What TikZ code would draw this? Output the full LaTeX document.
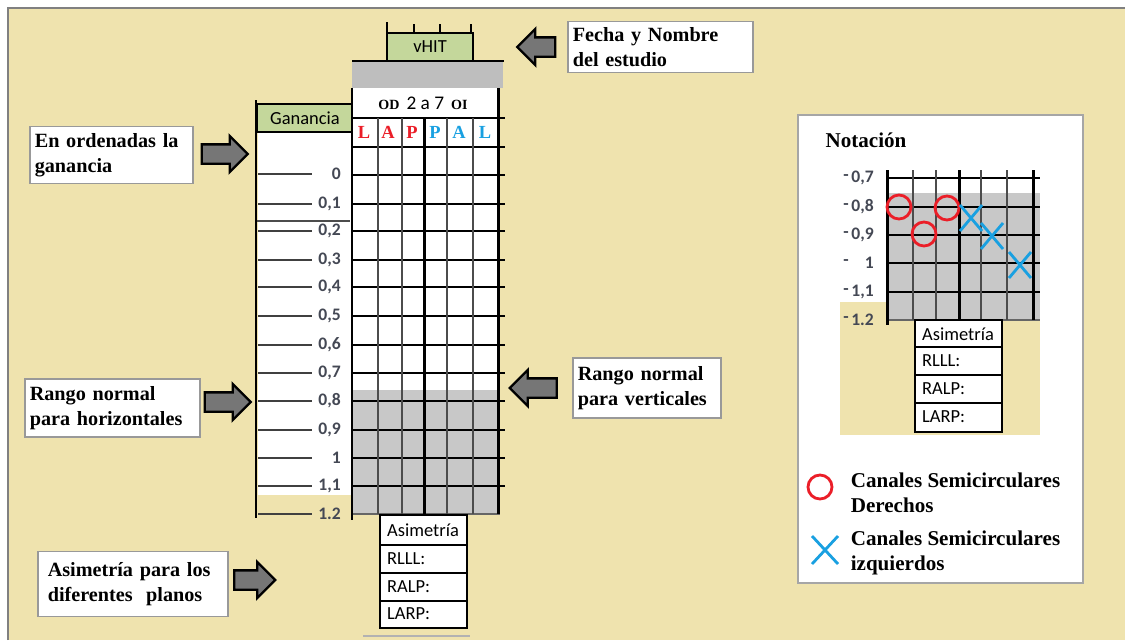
\documentclass[tikz,border=0pt]{standalone}
\usepackage{fontspec}
\setmainfont{Liberation Serif}
\newfontfamily\calib{Carlito}
\usepackage{tikz}
\usetikzlibrary{shapes.arrows}
\usepackage{xcolor}

\definecolor{tan}{RGB}{239,227,174}
\definecolor{hdrgreen}{RGB}{196,215,155}
\definecolor{bandgray}{RGB}{190,190,190}
\definecolor{shadegray}{RGB}{200,200,200}
\definecolor{numgray}{RGB}{68,72,84}
\definecolor{arrowgray}{RGB}{118,118,118}
\definecolor{odred}{RGB}{235,30,40}
\definecolor{oiblue}{RGB}{25,160,225}

\tikzset{
  callout/.style={draw=gray!80, fill=white, line width=0.9pt, align=left, anchor=west,
    inner xsep=0.1cm, inner ysep=0pt, font=\bfseries\fontsize{11.5}{14.2}\selectfont},
  blockarrow/.style={single arrow, draw=black, fill=arrowgray, line width=1.3pt,
    single arrow head extend=0.17cm, inner xsep=0pt, inner ysep=0.17cm},
  numlabel/.style={anchor=east, text=numgray, font=\calib\bfseries\fontsize{10}{12}\selectfont},
  celltext/.style={anchor=west, font=\calib\fontsize{10.5}{12}\selectfont},
  gridline/.style={line width=0.9pt},
  thinline/.style={black!70, line width=0.9pt},
  thickline/.style={line width=1.7pt},
  rightmark/.style={odred, line width=1.6pt},
  leftmark/.style={oiblue, line width=1.6pt}
}

\begin{document}
\begin{tikzpicture}[x=0.02cm, y=-0.02cm]

  % Frame
  \useasboundingbox (0,0) rectangle (1125,640);
  \fill[white] (0,0) rectangle (1125,640);
  \fill[tan] (8,8) rectangle (1125,640);
  \draw[gray, line width=1.4pt] (8,640) -- (8,8) -- (1125,8);

  % vHIT header
  \draw[thickline] (387,22) -- (387,34);
  \draw[line width=1.2pt] (414,24) -- (414,33) (440,24) -- (440,33) (471,24) -- (471,33);
  \draw[line width=1.2pt, fill=hdrgreen] (387,60) -- (387,33) -- (473,33) -- (473,60);
  \node[font=\calib\fontsize{10.5}{12}\selectfont] (vhit) at (430,47) {vHIT};
  \fill[bandgray] (352,62) rectangle (503,88);
  \draw[thickline] (352,61) -- (504,61);

  % Gain column
  \fill[white] (258,132) rectangle (352,495);
  \draw[line width=1pt, fill=hdrgreen] (257,104) rectangle (352,132);
  \node[font=\calib\fontsize{10.5}{12}\selectfont] (gan) at (305,118) {Ganancia};
  \draw[thickline] (256,100) -- (256,518);
  \draw[thinline] (257,221) -- (350,221);
  \foreach \v/\y in {0/174, {0,1}/204, {0,2}/231, {0,3}/260, {0,4}/287, {0,5}/316, {0,6}/345,
                     {0,7}/373, {0,8}/401, {0,9}/430, 1/458, {1,1}/486, 1.2/514} {
    \draw[black!75, line width=0.8pt] (258,\y) -- (312,\y);
    \node[numlabel] (g\y) at (347,\y) {\v};
  }

  % Grid
  \fill[white] (352,88) rectangle (498,390);
  \fill[shadegray] (352,390) rectangle (500,514);
  \node (odoi) at (423,103) {\bfseries\fontsize{8}{9}\selectfont OD\ \ {\mdseries\calib\fontsize{11}{12}\selectfont 2 a 7}\ \ OI};
  \foreach \c/\x/\col in {L/364/odred, A/388/odred, P/412/odred, P/435/oiblue, A/459/oiblue, L/485/oiblue}
    \node[text=\col, font=\bfseries\fontsize{10.5}{12}\selectfont] (ch\x) at (\x,132) {\c};
  \foreach \y in {118,147,175,204,231,260,287,316,345,373,401,430,458,486}
    \draw[gridline] (352,\y) -- (505,\y);
  \draw[gridline, black!60] (352,514) -- (500,514);
  \foreach \x in {378,402,447,473}
    \draw[thinline] (\x,118) -- (\x,514);
  \draw[thickline] (424,118) -- (424,514);
  \draw[thickline] (498,88) -- (498,514);
  \draw[thickline] (352,88) -- (352,520);

  % Asymmetry table
  \draw[line width=1pt, fill=white] (380,515) rectangle (467,628);
  \foreach \y in {545,573,601}
    \draw[line width=1pt] (380,\y) -- (467,\y);
  \node[celltext] (asim) at (381,530) {Asimetría};
  \node[celltext] (rlll) at (381,559) {RLLL:};
  \node[celltext] (ralp) at (381,587) {RALP:};
  \node[celltext] (larp) at (381,614) {LARP:};
  \draw[gray!60, line width=0.8pt] (363,636) -- (470,636);

  % Callouts
  \node[callout, text width=3.06cm, minimum height=1.14cm] (ordbox) at (29,155) {En ordenadas la\\ganancia};
  \node[callout, text width=3.3cm, minimum height=1.16cm] (horbox) at (24,408) {Rango normal\\para horizontales};
  \node[callout, text width=3.4cm, inner xsep=0.2cm, minimum height=1.3cm] (asibox) at (37,584) {Asimetría para los\\diferentes\ \ planos};
  \node[callout, text width=3.5cm, minimum height=1.02cm] (fecbox) at (567,47) {Fecha y Nombre\\del estudio};
  \node[callout, text width=2.76cm, minimum height=1.2cm] (verbox) at (572,388) {Rango normal\\para verticales};

  % Block arrows
  \node[blockarrow, minimum height=0.92cm] (arr1) at (220,154) {};
  \node[blockarrow, minimum height=0.92cm] (arr2) at (223,402) {};
  \node[blockarrow, minimum height=0.82cm] (arr3) at (250,580) {};
  \node[blockarrow, minimum height=0.76cm, shape border rotate=180] (arr4) at (541,47) {};
  \node[blockarrow, minimum height=0.94cm, shape border rotate=180] (arr5) at (538,388) {};

  % Notation box
  \draw[gray!70, line width=1.5pt, fill=white] (798,115) rectangle (1083,583);
  \node[font=\bfseries\fontsize{12}{14}\selectfont] (notac) at (866,140) {Notación};
  \fill[tan] (840,302) rectangle (1040,435);
  \fill[shadegray] (887,193) rectangle (1040,320);
  \foreach \y in {178,207,235,263,292}
    \draw[gridline] (887,\y) -- (1040,\y);
  \draw[gridline, black!60] (887,320) -- (1040,320);
  \foreach \x in {913,936,981,1007}
    \draw[thinline] (\x,170) -- (\x,320);
  \draw[thickline] (959,170) -- (959,320);
  \draw[thickline] (1033,170) -- (1033,320);
  \draw[thickline] (887,170) -- (887,325);
  \foreach \v/\y in {{0,7}/178, {0,8}/207, {0,9}/235, 1/263, {1,1}/292, 1.2/320} {
    \node[numlabel, anchor=center] (md\y) at (846,\y) {-};
    \node[numlabel] (mn\y) at (880,\y) {\v};
  }

  % Mini asymmetry table
  \draw[line width=1pt, fill=white] (915,320) rectangle (1002,432);
  \foreach \y in {347,375,403}
    \draw[line width=1pt] (915,\y) -- (1002,\y);
  \node[celltext] (masim) at (916,334) {Asimetría};
  \node[celltext] (mrlll) at (916,361) {RLLL:};
  \node[celltext] (mralp) at (916,389) {RALP:};
  \node[celltext] (mlarp) at (916,417) {LARP:};

  % Marks
  \foreach \x/\y in {899/207, 924/234, 947/208}
    \draw[rightmark] (\x,\y) circle (12);
  \foreach \x/\y in {971/218, 992/236, 1020/265}
    \draw[leftmark] (\x,\y) ++(-11,-13) -- ++(22,26) ++(0,-26) -- ++(-22,26);

  % Legend
  \draw[rightmark] (820,487) circle (12);
  \draw[leftmark] (825,550) ++(-13,-14) -- ++(26,28) ++(0,-28) -- ++(-26,28);
  \node[callout, draw=none, fill=none, inner xsep=0pt, font=\bfseries\fontsize{12}{14.2}\selectfont] (legr) at (850,493) {Canales Semicirculares\\Derechos};
  \node[callout, draw=none, fill=none, inner xsep=0pt, font=\bfseries\fontsize{12}{14.2}\selectfont] (legl) at (850,553) {Canales Semicirculares\\izquierdos};

\end{tikzpicture}
\end{document}
